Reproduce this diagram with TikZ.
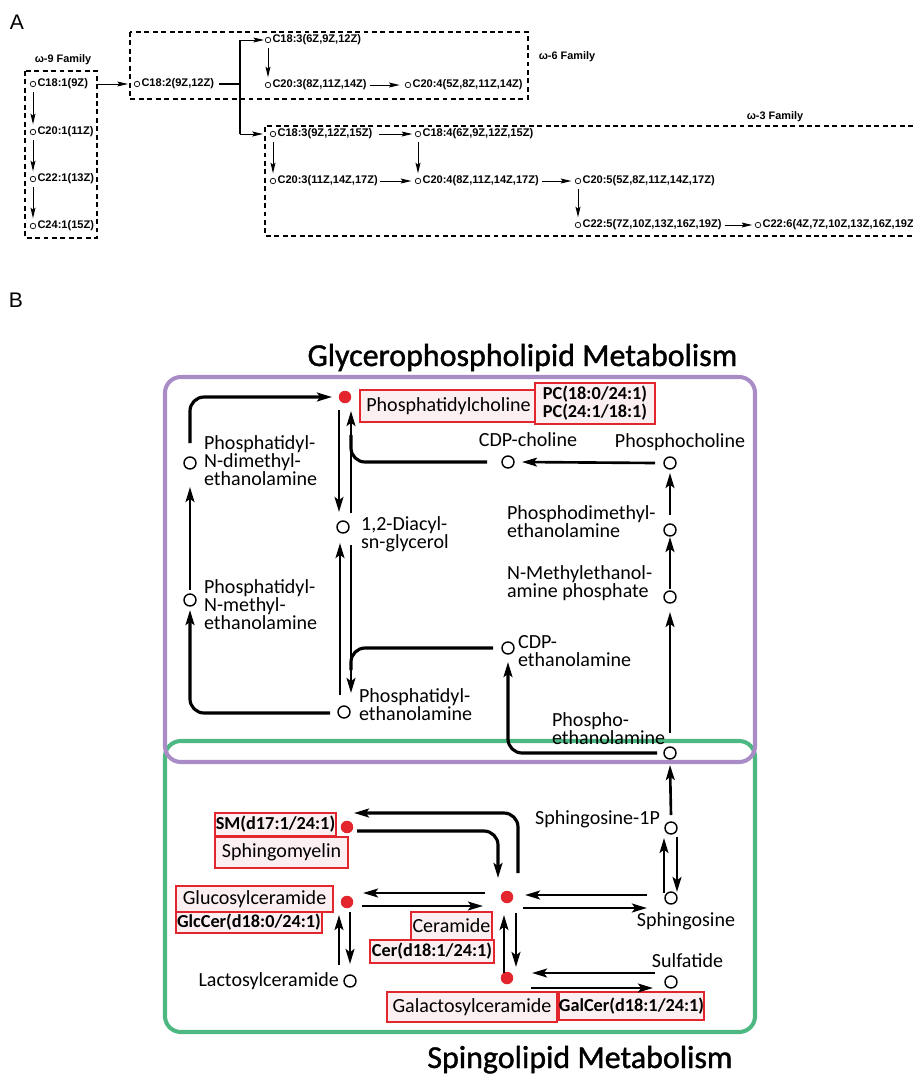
\documentclass[tikz,border=0pt]{standalone}
\usepackage{fontspec}
\setmainfont{Carlito}
\newfontfamily\arialfont{Liberation Sans}
\newfontfamily\titlefont[FakeBold=1.2]{Carlito}
\usepackage{tikz}
\usetikzlibrary{arrows.meta, positioning, calc}

\definecolor{hitred}{HTML}{E3262D}
\definecolor{hitpink}{HTML}{FBEFF2}
\definecolor{glyviolet}{HTML}{A98BC6}
\definecolor{sphgreen}{HTML}{4DB881}

\begin{document}
\begin{tikzpicture}[x=0.02cm, y=-0.02cm, >={Stealth[length=8.5pt,width=5pt,inset=1.8pt]},
    panel/.style={font=\arialfont\fontsize{12}{12}\selectfont, inner sep=0pt},
    famline/.style={line width=0.75pt, dash pattern=on 2.8pt off 2pt},
    famlab/.style={font=\arialfont\bfseries\fontsize{6.2}{7}\selectfont, inner sep=0pt},
    sc/.style={circle, draw, line width=0.4pt, minimum size=0.11cm, inner sep=0pt},
    fa/.style={font=\arialfont\bfseries\fontsize{6.3}{7}\selectfont, inner sep=0.6pt},
    arrA/.style={->, >={Stealth[length=6pt,width=2.8pt,inset=1pt]}, line width=0.55pt},
    vgap/.style={shorten <=2.8pt, shorten >=2.6pt},
    ttl/.style={font=\titlefont\fontsize{18.2}{20}\selectfont, inner sep=0pt},
    oc/.style={circle, draw, line width=0.8pt, fill=white, minimum size=0.24cm, inner sep=0pt},
    rc/.style={circle, fill=hitred, minimum size=0.25cm, inner sep=0pt},
    lab/.style={font=\fontsize{11.4}{10.3}\selectfont, inner sep=1pt, align=left},
    hitbox/.style={draw=hitred, line width=1.1pt, fill=hitpink, inner sep=0pt, font=\fontsize{11.4}{10.3}\selectfont},
    spec/.style={font=\bfseries\fontsize{10.4}{10.2}\selectfont, align=center},
    boxsize/.style 2 args={minimum width=#1*0.02cm, minimum height=#2*0.02cm},
    flow/.style={->, line width=1.5pt},
    elbow/.style={line width=1.8pt, rounded corners=8pt}]
    \useasboundingbox (0,0) rectangle (913,1076);

    % Phần A
    \node[panel] (labA) at (17,22) {A};

    % Họ omega-9
    \draw[famline] (25,71) rectangle (97,238);
    \node[famlab] at (63,60) {ω-9 Family};
    \node[sc] (c181) at (33,84) {};
    \node[fa, right=0pt of c181] (c181t) {C18:1(9Z)};
    \node[sc] (c201) at (33,132) {};
    \node[fa, right=0pt of c201] (c201t) {C20:1(11Z)};
    \node[sc] (c221) at (33,179) {};
    \node[fa, right=0pt of c221] (c221t) {C22:1(13Z)};
    \node[sc] (c241) at (33,226) {};
    \node[fa, right=0pt of c241] (c241t) {C24:1(15Z)};
    \draw[arrA, vgap] (c181) -- (c201);
    \draw[arrA, vgap] (c201) -- (c221);
    \draw[arrA, vgap] (c221) -- (c241);

    % Họ omega-6
    \draw[famline] (130,32) rectangle (528,99);
    \node[famlab] at (567,57) {ω-6 Family};
    \node[sc] (c182) at (137,84) {};
    \node[fa, right=0pt of c182] (c182t) {C18:2(9Z,12Z)};
    \draw[arrA, shorten <=5pt, shorten >=3.4pt] (c181t) -- (c182);
    \coordinate (split) at (240,84);
    \node[sc] (c183a) at (268,40) {};
    \node[fa, right=0pt of c183a] (c183at) {C18:3(6Z,9Z,12Z)};
    \node[sc] (c203a) at (268,85) {};
    \node[fa, right=0pt of c203a] (c203at) {C20:3(8Z,11Z,14Z)};
    \node[sc] (c204a) at (408,85) {};
    \node[fa, right=0pt of c204a] (c204at) {C20:4(5Z,8Z,11Z,14Z)};
    \draw[line width=1.1pt, shorten <=2pt] (c182t) -- (split);
    \draw[arrA, shorten >=0.5pt] (split |- c183a) -- (c183a);
    \draw[arrA, vgap] (c183a) -- (c203a);
    \draw[arrA, shorten <=1pt, shorten >=3pt] (c203at) -- (c204a);

    % Họ omega-3
    \draw[famline] (930,126) -- (265,126) -- (265,236) -- (930,236);
    \node[famlab] at (775,117) {ω-3 Family};
    \node[sc] (c183b) at (273,134) {};
    \node[fa, right=0pt of c183b] (c183bt) {C18:3(9Z,12Z,15Z)};
    \node[sc] (c184) at (418,134) {};
    \node[fa, right=0pt of c184] (c184t) {C18:4(6Z,9Z,12Z,15Z)};
    \node[sc] (c203b) at (273,181) {};
    \node[fa, right=0pt of c203b] (c203bt) {C20:3(11Z,14Z,17Z)};
    \node[sc] (c204b) at (418,181) {};
    \node[fa, right=0pt of c204b] (c204bt) {C20:4(8Z,11Z,14Z,17Z)};
    \node[sc] (c205) at (578,181) {};
    \node[fa, right=0pt of c205] (c205t) {C20:5(5Z,8Z,11Z,14Z,17Z)};
    \node[sc] (c225) at (578,225) {};
    \node[fa, right=0pt of c225] (c225t) {C22:5(7Z,10Z,13Z,16Z,19Z)};
    \node[sc] (c226) at (758,225) {};
    \node[fa, right=0pt of c226] (c226t) {C22:6(4Z,7Z,10Z,13Z,16Z,19Z)};
    \draw[line width=1.1pt] (split |- c183a) -- (split |- c183b);
    \draw[arrA, shorten >=4pt] (split |- c183b) -- (c183b);
    \draw[arrA, vgap] (c183b) -- (c203b);
    \draw[arrA, vgap] (c184) -- (c204b);
    \draw[arrA, vgap] (c205) -- (c225);
    \draw[arrA, shorten <=3pt, shorten >=1.5pt] (c183bt) -- (c184);
    \draw[arrA, shorten <=0.5pt, shorten >=2pt] (c203bt) -- (c204b);
    \draw[arrA, shorten <=1pt, shorten >=2pt] (c204bt) -- (c205);
    \draw[arrA, shorten <=1pt, shorten >=1.5pt] (c225t) -- (c226);

    % Phần B
    \node[panel] (labB) at (16,300) {B};
    \draw[sphgreen, line width=2.3pt, rounded corners=9pt] (165,741) rectangle (755,1032);
    \draw[glyviolet, line width=2.3pt, rounded corners=9pt] (165,377) rectangle (755,762);
    \node[ttl, anchor=base] (glytitle) at (522.5,366) {Glycerophospholipid Metabolism};
    \node[ttl, anchor=base] (sphtitle) at (580,1068) {Spingolipid Metabolism};

    % Chuyển hoá glycerophospholipid
    \node[rc] (pc) at (345,397) {};
    \node[oc] (pdme) at (190,463) {};
    \node[oc] (pnme) at (190,600) {};
    \node[oc] (dag) at (343,527) {};
    \node[oc] (pe) at (344,712) {};
    \node[oc] (cdpc) at (508,462) {};
    \node[oc] (pcho) at (670,463) {};
    \node[oc] (pdmea) at (670,530) {};
    \node[oc] (nmep) at (670,597) {};
    \node[oc] (cdpe) at (508,648) {};
    \node[oc] (pea) at (670,753) {};

    \node[hitbox, boxsize={177}{32}] (pcname) at (448.5,406) {Phosphatidylcholine};
    \node[hitbox, spec, boxsize={120}{41}] (pcspec) at (595,403.5) {PC(18:0/24:1)\\PC(24:1/18:1)};
    \node[lab, anchor=west] (pdmelab) at (202,461) {Phosphatidyl-\\N-dimethyl-\\ethanolamine};
    \node[lab, anchor=west] (pnmelab) at (202,605) {Phosphatidyl-\\N-methyl-\\ethanolamine};
    \node[lab, anchor=west] (daglab) at (359,534) {1,2-Diacyl-\\sn-glycerol};
    \node[lab, anchor=west] (pelab) at (357,705) {Phosphatidyl-\\ethanolamine};
    \node[lab] (cdpclab) at (528,440) {CDP-choline};
    \node[lab] (pcholab) at (680,442) {Phosphocholine};
    \node[lab, anchor=west] (pdmealab) at (505,522) {Phosphodimethyl-\\ethanolamine};
    \node[lab, anchor=west] (nmeplab) at (505,583) {N-Methylethanol-\\amine phosphate};
    \node[lab, anchor=west] (cdpelab) at (516,651) {CDP-\\ethanolamine};
    \node[lab, anchor=west] (pealab) at (550,729) {Phospho-\\ethanolamine};

    \draw[flow, elbow] ($(pdme)+(0,-20)$) |- ($(pc)+(-13,0)$);
    \draw[flow] ($(pc)+(-6,13)$) -- ($(dag)+(-4,-15)$);
    \draw[flow] ($(dag)+(8,-14)$) -- ($(pc)+(6,14)$);
    \draw[elbow] ($(cdpc)+(-21,0)$) -| ($(pc)+(6,38)$);
    \draw[flow] ($(pcho)+(-15,0)$) -- ($(cdpc)+(14,0)$);
    \draw[flow] ($(pdmea)+(0,-15)$) -- ($(pcho)+(0,10)$);
    \draw[flow] ($(nmep)+(0,-8)$) -- ($(pdmea)+(0,7)$);
    \draw[flow] ($(pnme)+(0,-10)$) -- ($(pdme)+(0,24)$);
    \draw[flow, elbow] ($(pe)+(-14,1)$) -| ($(pnme)+(0,10)$);
    \draw[flow] ($(pe)+(-4,-17)$) -- ($(dag)+(-3,16)$);
    \draw[flow] ($(dag)+(8,18)$) -- ($(pe)+(7,-19)$);
    \draw[elbow] ($(cdpe)+(-15,0)$) -| ($(pe)+(7,-42)$);
    \draw[flow] ($(pea)+(0,-20)$) -- ($(nmep)+(0,15)$);
    \draw[flow, elbow] ($(pea)+(-13,0)$) -| ($(cdpe)+(0,14)$);

    % Chuyển hoá sphingolipid
    \node[oc] (s1p) at (671,828) {};
    \node[oc] (sph) at (671,898) {};
    \node[rc] (cer) at (507,897) {};
    \node[oc] (sulf) at (671,982) {};
    \node[rc] (gal) at (507,978) {};
    \node[rc] (glc) at (347,902) {};
    \node[oc] (lac) at (350,981) {};
    \node[rc] (sm) at (347,827) {};

    \node[lab] (s1plab) at (597.5,819) {Sphingosine-1P};
    \node[lab] (sphlab) at (686,921) {Sphingosine};
    \node[lab] (sulflab) at (687.5,961) {Sulfatide};
    \node[lab, anchor=east] (laclab) at (341,981) {Lactosylceramide};
    \node[hitbox, spec, boxsize={121}{23}] (smspec) at (275.5,824.5) {SM(d17:1/24:1)};
    \node[hitbox, boxsize={133}{31}] (smname) at (281.5,852.5) {Sphingomyelin};
    \node[hitbox, boxsize={157}{26}] (glcname) at (254.5,899) {Glucosylceramide};
    \node[hitbox, spec, boxsize={146}{21}] (glcspec) at (249,922.5) {GlcCer(d18:0/24:1)};
    \node[hitbox, boxsize={81}{28}] (cername) at (451.5,926) {Ceramide};
    \node[hitbox, spec, boxsize={124}{23}] (cerspec) at (432,951.5) {Cer(d18:1/24:1)};
    \node[hitbox, boxsize={170}{30}] (galname) at (472,1007) {Galactosylceramide};
    \node[hitbox, spec, boxsize={145}{28}] (galspec) at (631.5,1006) {GalCer(d18:1/24:1)};

    \draw[flow] ($(s1p)+(0,-13)$) -- ($(pea)+(0,12)$);
    \draw[flow] ($(sph)+(-7,-5)$) -- ($(s1p)+(-7,10)$);
    \draw[flow] ($(s1p)+(6,9)$) -- ($(sph)+(6,-6)$);
    \draw[flow] ($(sph)+(-24,-3)$) -- ($(cer)+(18,-2)$);
    \draw[flow] ($(cer)+(16,11)$) -- ($(sph)+(-24,10)$);
    \draw[flow] ($(gal)+(-3,-5)$) -- ($(cer)+(-3,18)$);
    \draw[flow] ($(cer)+(9,16)$) -- ($(gal)+(9,-11)$);
    \draw[flow] ($(sulf)+(-16,-9)$) -- ($(gal)+(25,-5)$);
    \draw[flow] ($(gal)+(24,10)$) -- ($(sulf)+(-18,6)$);
    \draw[flow] ($(cer)+(-22,-4)$) -- ($(glc)+(16,-9)$);
    \draw[flow] ($(glc)+(15,4)$) -- ($(cer)+(-24,9)$);
    \draw[flow] ($(lac)+(-11,-16)$) -- ($(glc)+(-8,13)$);
    \draw[flow] ($(glc)+(3,10)$) -- ($(lac)+(0,-17)$);
    \draw[flow, elbow] ($(sm)+(10,4)$) -| ($(cer)+(-9,-19)$);
    \draw[flow, elbow] ($(cer)+(11,-24)$) |- ($(sm)+(7,-14)$);
\end{tikzpicture}
\end{document}
